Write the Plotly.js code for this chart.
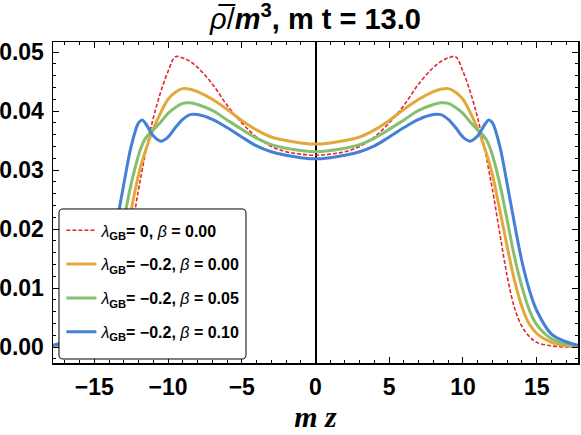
<!DOCTYPE html>
<html>
<head>
<meta charset="utf-8">
<script src="https://cdn.plot.ly/plotly-3.0.1.min.js"></script>
<style>html,body{margin:0;padding:0;background:#fff;}#chart{width:581px;height:435px;}</style>
</head>
<body>
<div id="chart"></div>
<script>
// m z positions
var mz = [-17.8,-17,-16,-15,-14.5,-14,-13.5,-13,-12.5,-12,-11.75,-11.5,-11,-10.5,-10,-9.5,-9,-8.5,-8,-7,-6,-5,-4,-3,-2,-1,
          0,1,2,3,4,5,6,7,8,8.5,9,9.5,10,10.5,11,11.5,11.75,12,12.5,13,13.5,14,14.5,15,16,17,17.8];

// lambda_GB = 0, beta = 0.00
var rhoA = [0.0000,0.0000,0.0002,0.0008,0.0018,0.0035,0.0066,0.0120,0.0192,0.0267,0.0300,0.0333,0.0388,0.0432,0.0467,0.0492,0.0490,0.0484,0.0474,0.0446,0.0410,0.0380,0.0356,0.0340,0.0331,0.0327,
            0.0325,
            0.0327,0.0331,0.0340,0.0356,0.0380,0.0410,0.0446,0.0474,0.0484,0.0490,0.0492,0.0467,0.0432,0.0388,0.0333,0.0300,0.0267,0.0192,0.0120,0.0066,0.0035,0.0018,0.0008,0.0002,0.0000,0.0000];
// lambda_GB = -0.2, beta = 0.00
var rhoB = [0.0001,0.0002,0.0008,0.0023,0.0039,0.0068,0.0112,0.0170,0.0232,0.0292,0.0315,0.0335,0.0370,0.0397,0.0420,0.0432,0.0438,0.0437,0.0433,0.0420,0.0403,0.0384,0.0368,0.0356,0.0350,0.0346,
            0.0344,
            0.0346,0.0350,0.0356,0.0368,0.0384,0.0403,0.0420,0.0433,0.0437,0.0438,0.0432,0.0420,0.0397,0.0370,0.0335,0.0315,0.0292,0.0232,0.0170,0.0112,0.0068,0.0039,0.0023,0.0008,0.0002,0.0001];
// lambda_GB = -0.2, beta = 0.05
var rhoC = [0.0001,0.0005,0.0014,0.0038,0.0063,0.0102,0.0152,0.0215,0.0276,0.0325,0.0343,0.0355,0.0368,0.0381,0.0396,0.0406,0.0413,0.0414,0.0411,0.0401,0.0385,0.0369,0.0354,0.0343,0.0337,0.0333,
            0.0331,
            0.0333,0.0337,0.0343,0.0354,0.0369,0.0385,0.0401,0.0411,0.0414,0.0413,0.0406,0.0396,0.0381,0.0368,0.0355,0.0343,0.0325,0.0276,0.0215,0.0152,0.0102,0.0063,0.0038,0.0014,0.0005,0.0001];
// lambda_GB = -0.2, beta = 0.10
var rhoD = [0.0003,0.0009,0.0022,0.0062,0.0097,0.0145,0.0208,0.0276,0.0340,0.0380,0.0385,0.0378,0.0358,0.0349,0.0356,0.0372,0.0386,0.0394,0.0394,0.0386,0.0372,0.0356,0.0341,0.0331,0.0325,0.0321,
            0.0319,
            0.0321,0.0325,0.0331,0.0341,0.0356,0.0372,0.0386,0.0394,0.0394,0.0386,0.0372,0.0356,0.0349,0.0358,0.0378,0.0385,0.0380,0.0340,0.0276,0.0208,0.0145,0.0097,0.0062,0.0022,0.0009,0.0003];

var seriesNames = [
  '<i>λ</i><sub><b>GB</b></sub><b>= 0, </b><i>β</i><b> = 0.00</b>',
  '<i>λ</i><sub><b>GB</b></sub><b>= −0.2, </b><i>β</i><b> = 0.00</b>',
  '<i>λ</i><sub><b>GB</b></sub><b>= −0.2, </b><i>β</i><b> = 0.05</b>',
  '<i>λ</i><sub><b>GB</b></sub><b>= −0.2, </b><i>β</i><b> = 0.10</b>'
];
var xTickVals = [-15,-10,-5,0,5,10,15];
var xTickText = ['−15','−10','−5','0','5','10','15'];
var yTickVals = [0.00,0.01,0.02,0.03,0.04,0.05];
var yTickText = ['0.00','0.01','0.02','0.03','0.04','0.05'];

var colors = ['#E3262B','#E2A93A','#86BF6E','#4580D6'];
var ys = [rhoA, rhoB, rhoC, rhoD];
var traces = ys.map(function(y, i){
  return {
    x: mz, y: y, type: 'scatter', mode: 'lines',
    name: seriesNames[i], legendgroup: 'g'+i,
    line: {color: colors[i], width: i===0 ? 1.6 : 3, dash: i===0 ? '4px,2px' : 'solid', shape: 'spline', smoothing: 1}
  };
});

var x0=0.0114, x1=0.3676, yB=0.0125, yT=0.4798, rx=0.0076, ry=0.0125;
var boxPath = 'M'+(x0+rx)+','+yT+' L'+(x1-rx)+','+yT+' Q'+x1+','+yT+' '+x1+','+(yT-ry)+
  ' L'+x1+','+(yB+ry)+' Q'+x1+','+yB+' '+(x1-rx)+','+yB+' L'+(x0+rx)+','+yB+
  ' Q'+x0+','+yB+' '+x0+','+(yB+ry)+' L'+x0+','+(yT-ry)+' Q'+x0+','+yT+' '+(x0+rx)+','+yT+' Z';

var axisFont = {family: 'Liberation Sans, Arial, sans-serif', size: 23, color: '#000', weight: 'bold'};

var layout = {
  width: 581, height: 435,
  margin: {l: 53, r: 3, t: 42, b: 72},
  paper_bgcolor: '#fff', plot_bgcolor: '#fff',
  showlegend: true,
  title: {
    text: '<i>ρ̅</i>/<b><i>m</i><sup>3</sup>, m t = 13.0</b>',
    font: {family: 'Liberation Sans, Arial, sans-serif', size: 29, color: '#000'},
    x: 0.5, xref: 'paper', y: 0.957, yref: 'container', yanchor: 'middle'
  },
  xaxis: {
    range: [-17.8, 17.8], showgrid: false,
    zeroline: true, zerolinecolor: '#000', zerolinewidth: 2,
    showline: true, linecolor: '#000', linewidth: 1.5, mirror: 'ticks',
    ticks: 'inside', ticklen: 6, tickwidth: 1, tickcolor: '#000',
    tickvals: xTickVals, ticktext: xTickText,
    minor: {dtick: 1, tick0: 0, ticks: 'inside', ticklen: 3, tickcolor: '#000', showgrid: false},
    tickfont: axisFont, ticklabelstandoff: 3,
    title: {text: '<b><i>m z</i></b>', font: {family: 'Liberation Serif, Times New Roman, serif', size: 30, color: '#000'}, standoff: 0}
  },
  yaxis: {
    range: [-0.0027, 0.0517], showgrid: false, zeroline: false,
    showline: true, linecolor: '#000', linewidth: 1.5, mirror: 'ticks',
    ticks: 'inside', ticklen: 6, tickwidth: 1, tickcolor: '#000',
    tickvals: yTickVals, ticktext: yTickText,
    minor: {dtick: 0.002, tick0: 0, ticks: 'inside', ticklen: 3, tickcolor: '#000', showgrid: false},
    tickfont: axisFont, ticklabelstandoff: 3
  },
  legend: {
    x: 0.016, xanchor: 'left', y: 0.466, yanchor: 'top',
    bgcolor: 'rgba(0,0,0,0)', borderwidth: 0,
    font: {family: 'Liberation Sans, Arial, sans-serif', size: 16, color: '#000'},
    tracegroupgap: 10, itemwidth: 30
  },
  shapes: [{type: 'path', xref: 'paper', yref: 'paper', path: boxPath, fillcolor: '#fff', line: {color: '#000', width: 1}, layer: 'above'}]
};

Plotly.newPlot('chart', traces, layout, {staticPlot: true, displayModeBar: false});
</script>
</body>
</html>
